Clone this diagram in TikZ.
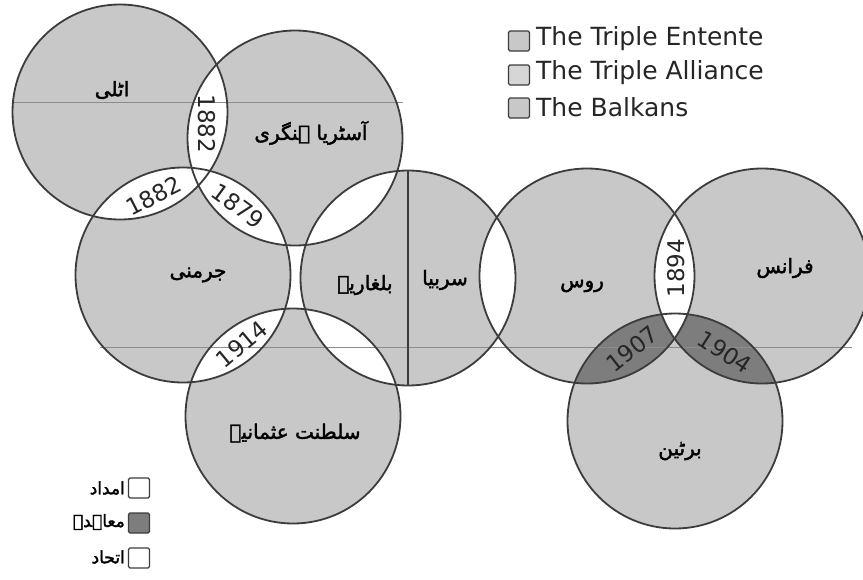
\documentclass[tikz,border=0pt]{standalone}
\usepackage{fontspec}
\setmainfont{DejaVu Sans}
\newfontfamily\urdu[Script=Arabic,FakeBold=2]{DejaVu Sans}
\TeXXeTstate=1
\definecolor{cfill}{RGB}{200,200,200}
\definecolor{cfillb}{RGB}{214,214,214}
\definecolor{cdark}{RGB}{125,125,125}
\definecolor{ring}{RGB}{60,60,60}
\begin{document}
\begin{tikzpicture}[x=1pt,y=-1pt,
  ringline/.style={draw=ring,line width=1.8pt},
  datelbl/.style={font=\fontsize{23}{23}\selectfont,inner sep=0pt,text=black!85},
  urlbl/.style={font=\urdu\fontsize{20}{20}\selectfont,inner sep=0pt},
  urleg/.style={font=\urdu\fontsize{17}{17}\selectfont,inner sep=0pt,anchor=east},
  legsq/.style={draw=ring,line width=1.4pt,minimum width=21pt,minimum height=20pt,inner sep=0pt,rounded corners=1.5pt},
  legtxt/.style={font=\fontsize{25}{25}\selectfont,inner sep=0pt,anchor=west,text=black!85},
  scanline/.style={draw=black!45,line width=0.4pt}]
\useasboundingbox (0,0) rectangle (863,579);
\fill[white] (0,0) rectangle (863,579);
\def\R{107.5}
\coordinate (it) at (120,112);
\coordinate (ah) at (295,138);
\coordinate (de) at (183,275);
\coordinate (bk) at (408,278);
\coordinate (ru) at (587,276);
\coordinate (fr) at (762,276);
\coordinate (gb) at (675,421);
\coordinate (ot) at (293,416);
% circle fills
\foreach \c in {it,ah,de,bk,ru,fr,gb,ot} \fill[cfill] (\c) circle (\R pt);
% treaties (dark lenses)
\foreach \a/\b in {ru/gb,fr/gb}{
  \begin{scope}\clip (\a) circle (\R pt); \fill[cdark] (\b) circle (\R pt);\end{scope}}
% white lenses
\foreach \a/\b in {it/ah,it/de,ah/de,de/ot,bk/ot,ah/bk,bk/ru,ru/fr}{
  \begin{scope}\clip (\a) circle (\R pt); \fill[white] (\b) circle (\R pt);\end{scope}}
% faint scan lines
\coordinate (sa1) at (12,102); \coordinate (sa2) at (403,102);
\coordinate (sb1) at (100,347); \coordinate (sb2) at (852,347);
\draw[scanline] (sa1) -- (sa2);
\draw[scanline] (sb1) -- (sb2);
% outlines
\foreach \c in {it,ah,de,bk,ru,fr,gb,ot} \draw[ringline] (\c) circle (\R pt);
% Balkans divider
\coordinate (bkt) at (408,170.5);
\coordinate (bkb) at (408,385.5);
\draw[ring,line width=2pt] (bkt) -- (bkb);
% dates
\node[datelbl,rotate=-90] (d1) at (207,124) {1882};
\node[datelbl,rotate=27] (d2) at (154,196) {1882};
\node[datelbl,rotate=-36] (d3) at (238,206) {1879};
\node[datelbl,rotate=40] (d4) at (242,344) {1914};
\node[datelbl,rotate=90] (d5) at (676,268) {1894};
\node[datelbl,rotate=38] (d6) at (632,349) {1907};
\node[datelbl,rotate=-33] (d7) at (725,352) {1904};
% country names
\node[urlbl] (nit) at (112,90) {\beginR اٹلی\endR};
\node[urlbl] (nah) at (311,133) {\beginR آسٹریا ہنگری\endR};
\node[urlbl] (nde) at (198,275) {\beginR جرمنی\endR};
\node[urlbl] (nbg) at (365,285) {\beginR بلغاریہ\endR};
\node[urlbl] (nsr) at (445,280) {\beginR سربیا\endR};
\node[urlbl] (nru) at (582,286) {\beginR روس\endR};
\node[urlbl] (nfr) at (785,268) {\beginR فرانس\endR};
\node[urlbl] (not) at (295,433) {\beginR سلطنت عثمانیہ\endR};
\node[urlbl] (ngb) at (680,451) {\beginR برٹین\endR};
% legend top right
\node[legsq,fill=cfill] (s1) at (519,41) {};
\node[legsq,fill=cfillb] (s2) at (519,75) {};
\node[legsq,fill=cfill] (s3) at (519,108) {};
\node[legtxt] (t1) at (536,39) {The Triple Entente};
\node[legtxt] (t2) at (536,73) {The Triple Alliance};
\node[legtxt] (t3) at (536,107) {The Balkans};
% legend bottom left
\node[legsq,fill=white] (b1) at (139,488) {};
\node[legsq,fill=cdark] (b2) at (139,523) {};
\node[legsq,fill=white] (b3) at (139,558) {};
\node[urleg] (l1) at (125,488) {\beginR امداد\endR};
\node[urleg] (l2) at (125,522) {\beginR معاہدے\endR};
\node[urleg] (l3) at (125,557) {\beginR اتحاد\endR};
\end{tikzpicture}
\end{document}
